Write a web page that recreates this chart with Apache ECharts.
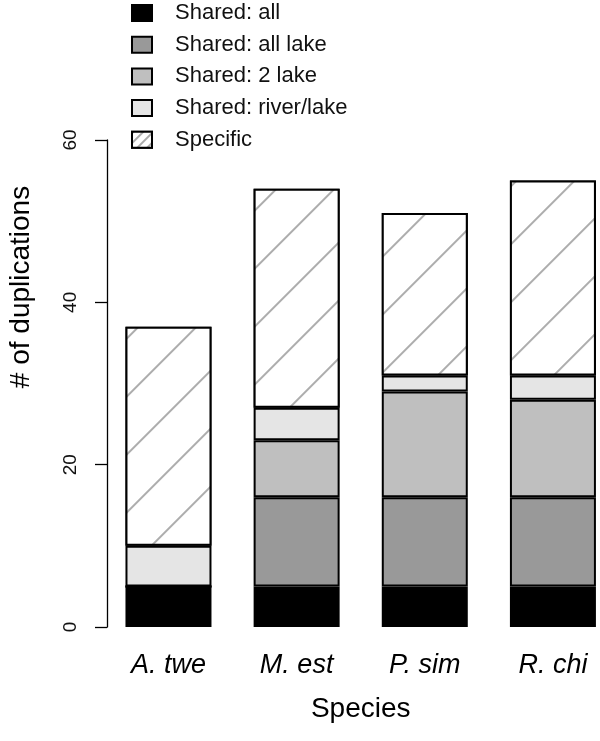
<!DOCTYPE html>
<html><head><meta charset="utf-8">
<script src="https://cdn.jsdelivr.net/npm/echarts@6/dist/echarts.min.js"></script>
<style>html,body{margin:0;padding:0;background:#fff}#c{width:600px;height:741px}</style>
</head><body><div id="c"></div>
<script>
const species = ['A. twe', 'M. est', 'P. sim', 'R. chi'];
const seriesNames = ['Shared: all', 'Shared: all lake', 'Shared: 2 lake', 'Shared: river/lake', 'Specific'];
const sharedAll = [5, 5, 5, 5];
const sharedAllLake = [0, 11, 11, 11];
const shared2Lake = [0, 7, 13, 12];
const sharedRiverLake = [5, 4, 2, 3];
const specific = [27, 27, 20, 24];
const yMin = 0, yMax = 60, yStep = 20;

const values = [sharedAll, sharedAllLake, shared2Lake, sharedRiverLake, specific];
const fills = ['#000000', '#999999', '#bfbfbf', '#e5e5e5', '#ffffff'];
const FONT = '"Liberation Sans", Arial, sans-serif';

const hatch = {
  symbol: 'rect', symbolSize: 1,
  dashArrayX: [1, 0], dashArrayY: [1.4, 39],
  rotation: -Math.PI / 4,
  color: '#adadad', backgroundColor: '#ffffff'
};
const legendHatch = {
  symbol: 'rect', symbolSize: 1,
  dashArrayX: [1, 0], dashArrayY: [1.2, 5],
  rotation: -Math.PI / 4,
  color: '#aaaaaa', backgroundColor: '#ffffff'
};

const chart = echarts.init(document.getElementById('c'), null, {renderer: 'canvas'});
chart.setOption({
  animation: false,
  backgroundColor: '#ffffff',
  textStyle: {fontFamily: FONT},
  legend: {
    data: seriesNames.map((n, i) => i === 4 ? {name: n, itemStyle: {decal: legendHatch}} : {name: n}),
    orient: 'vertical',
    left: 131, top: 2,
    padding: 0,
    itemWidth: 20, itemHeight: 16, itemGap: 9.7,
    icon: 'rect',
    itemStyle: {borderColor: '#000', borderWidth: 2},
    textStyle: {fontFamily: FONT, fontSize: 22, color: '#111', padding: [0, 0, 0, 18]}
  },
  grid: {left: 104.4, width: 512.6, top: 140, bottom: 114, outerBoundsMode: 'none'},
  xAxis: {
    type: 'category', data: species,
    axisLine: {show: false}, axisTick: {show: false},
    axisLabel: {fontFamily: FONT, fontSize: 27, fontStyle: 'italic', color: '#000', margin: 25},
    name: 'Species', nameLocation: 'middle', nameGap: 68,
    nameTextStyle: {fontFamily: FONT, fontSize: 28, color: '#000'}
  },
  yAxis: {
    type: 'value', min: yMin, max: yMax, interval: yStep, offset: -2.6,
    axisLine: {show: true, lineStyle: {color: '#000', width: 1.3}},
    axisTick: {show: true, length: 12, lineStyle: {color: '#000', width: 1.3}},
    axisLabel: {fontFamily: FONT, fontSize: 19, color: '#111', rotate: 90, margin: 27},
    splitLine: {show: false}
  },
  graphic: [{
    type: 'text', x: 21.7, y: 287, rotation: Math.PI / 2,
    style: {text: '# of duplications', fontFamily: FONT, fontSize: 28, fill: '#000',
            align: 'center', verticalAlign: 'middle'}
  }],
  series: seriesNames.map((name, i) => ({
    name: name, type: 'bar', stack: 'total', barWidth: 86,
    data: values[i],
    itemStyle: Object.assign({color: fills[i], borderColor: '#000', borderWidth: 2},
                             i === 4 ? {decal: hatch} : {})
  }))
});
</script></body></html>
